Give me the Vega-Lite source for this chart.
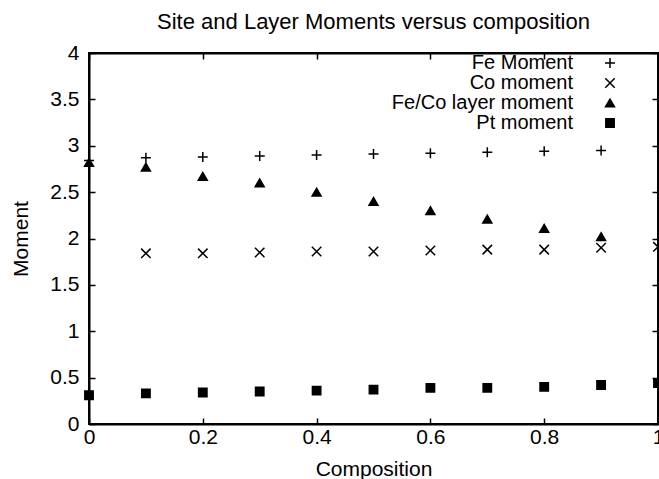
{
  "$schema": "https://vega.github.io/schema/vega-lite/v6.json",
  "width": 569,
  "height": 371,
  "autosize": {"type": "none"},
  "padding": {"left": 89, "top": 53, "right": 1, "bottom": 55},
  "background": "white",
  "config": {
    "font": "Liberation Sans",
    "view": {"stroke": "black", "strokeWidth": 2},
    "axis": {"labelFont": "Liberation Sans", "titleFont": "Liberation Sans", "labelColor": "black", "titleColor": "black", "grid": false}
  },
  "title": {
    "text": "Site and Layer Moments versus composition",
    "fontSize": 22,
    "fontWeight": "normal",
    "font": "Liberation Sans",
    "color": "black",
    "anchor": "middle",
    "offset": 8
  },
  "data": {
    "values": [
      {"series": "Fe Moment", "composition": 0.0, "moment": 2.84},
      {"series": "Fe Moment", "composition": 0.1, "moment": 2.87},
      {"series": "Fe Moment", "composition": 0.2, "moment": 2.88},
      {"series": "Fe Moment", "composition": 0.3, "moment": 2.89},
      {"series": "Fe Moment", "composition": 0.4, "moment": 2.90},
      {"series": "Fe Moment", "composition": 0.5, "moment": 2.91},
      {"series": "Fe Moment", "composition": 0.6, "moment": 2.92},
      {"series": "Fe Moment", "composition": 0.7, "moment": 2.93},
      {"series": "Fe Moment", "composition": 0.8, "moment": 2.94},
      {"series": "Fe Moment", "composition": 0.9, "moment": 2.95},
      {"series": "Co moment", "composition": 0.1, "moment": 1.84},
      {"series": "Co moment", "composition": 0.2, "moment": 1.84},
      {"series": "Co moment", "composition": 0.3, "moment": 1.85},
      {"series": "Co moment", "composition": 0.4, "moment": 1.86},
      {"series": "Co moment", "composition": 0.5, "moment": 1.86},
      {"series": "Co moment", "composition": 0.6, "moment": 1.87},
      {"series": "Co moment", "composition": 0.7, "moment": 1.88},
      {"series": "Co moment", "composition": 0.8, "moment": 1.88},
      {"series": "Co moment", "composition": 0.9, "moment": 1.90},
      {"series": "Co moment", "composition": 1.0, "moment": 1.91},
      {"series": "Fe/Co layer moment", "composition": 0.0, "moment": 2.82},
      {"series": "Fe/Co layer moment", "composition": 0.1, "moment": 2.77},
      {"series": "Fe/Co layer moment", "composition": 0.2, "moment": 2.67},
      {"series": "Fe/Co layer moment", "composition": 0.3, "moment": 2.60},
      {"series": "Fe/Co layer moment", "composition": 0.4, "moment": 2.50},
      {"series": "Fe/Co layer moment", "composition": 0.5, "moment": 2.40},
      {"series": "Fe/Co layer moment", "composition": 0.6, "moment": 2.30},
      {"series": "Fe/Co layer moment", "composition": 0.7, "moment": 2.21},
      {"series": "Fe/Co layer moment", "composition": 0.8, "moment": 2.11},
      {"series": "Fe/Co layer moment", "composition": 0.9, "moment": 2.02},
      {"series": "Pt moment", "composition": 0.0, "moment": 0.31},
      {"series": "Pt moment", "composition": 0.1, "moment": 0.33},
      {"series": "Pt moment", "composition": 0.2, "moment": 0.34},
      {"series": "Pt moment", "composition": 0.3, "moment": 0.35},
      {"series": "Pt moment", "composition": 0.4, "moment": 0.36},
      {"series": "Pt moment", "composition": 0.5, "moment": 0.37},
      {"series": "Pt moment", "composition": 0.6, "moment": 0.39},
      {"series": "Pt moment", "composition": 0.7, "moment": 0.39},
      {"series": "Pt moment", "composition": 0.8, "moment": 0.40},
      {"series": "Pt moment", "composition": 0.9, "moment": 0.42},
      {"series": "Pt moment", "composition": 1.0, "moment": 0.44}
    ]
  },
  "layer": [
    {
      "mark": {"type": "point", "strokeWidth": 1.5, "opacity": 1},
      "encoding": {
        "x": {
          "field": "composition", "type": "quantitative",
          "scale": {"domain": [0, 1], "nice": false, "zero": false},
          "axis": {
            "orient": "bottom", "title": "Composition", "values": [0, 0.2, 0.4, 0.6, 0.8, 1],
            "format": "~g", "labelFontSize": 21, "titleFontSize": 21, "titleFontWeight": "normal",
            "tickSize": -6, "tickColor": "black", "tickWidth": 1.5, "domainColor": "black", "domainWidth": 2,
            "labelPadding": 8, "titlePadding": 11, "labelFlush": false, "labelOverlap": false
          }
        },
        "y": {
          "field": "moment", "type": "quantitative",
          "scale": {"domain": [0, 4], "nice": false},
          "axis": {
            "orient": "left", "title": "Moment", "values": [0, 0.5, 1, 1.5, 2, 2.5, 3, 3.5, 4],
            "format": "~g", "labelFontSize": 21, "titleFontSize": 21, "titleFontWeight": "normal",
            "tickSize": -6, "tickColor": "black", "tickWidth": 1.5, "domainColor": "black", "domainWidth": 2,
            "labelPadding": 16, "titlePadding": 18, "labelFlush": false, "labelOverlap": false
          }
        },
        "shape": {
          "field": "series", "type": "nominal",
          "scale": {
            "domain": ["Fe Moment", "Co moment", "Fe/Co layer moment", "Pt moment"],
            "range": ["M-1,0H1M0,-1V1", "M-1,-1L1,1M1,-1L-1,1", "triangle-up", "square"]
          },
          "legend": {
            "title": null, "orient": "none", "legendX": 511, "legendY": 0,
            "labelFontSize": 20, "labelFont": "Liberation Sans", "labelColor": "black",
            "labelAlign": "right", "labelOffset": -47, "labelLimit": 400,
            "rowPadding": 0, "padding": 0, "symbolStrokeWidth": 1.5, "symbolOpacity": 1
          }
        },
        "fill": {
          "field": "series", "type": "nominal",
          "scale": {
            "domain": ["Fe Moment", "Co moment", "Fe/Co layer moment", "Pt moment"],
            "range": ["transparent", "transparent", "black", "black"]
          },
          "legend": {
            "title": null, "orient": "none", "legendX": 511, "legendY": 0,
            "labelFontSize": 20, "labelFont": "Liberation Sans", "labelColor": "black",
            "labelAlign": "right", "labelOffset": -47, "labelLimit": 400,
            "rowPadding": 0, "padding": 0, "symbolStrokeWidth": 1.5, "symbolOpacity": 1
          }
        },
        "stroke": {
          "field": "series", "type": "nominal",
          "scale": {
            "domain": ["Fe Moment", "Co moment", "Fe/Co layer moment", "Pt moment"],
            "range": ["black", "black", "black", "black"]
          },
          "legend": {
            "title": null, "orient": "none", "legendX": 511, "legendY": 0,
            "labelFontSize": 20, "labelFont": "Liberation Sans", "labelColor": "black",
            "labelAlign": "right", "labelOffset": -47, "labelLimit": 400,
            "rowPadding": 0, "padding": 0, "symbolStrokeWidth": 1.5, "symbolOpacity": 1
          }
        },
        "size": {
          "field": "series", "type": "nominal",
          "scale": {
            "domain": ["Fe Moment", "Co moment", "Fe/Co layer moment", "Pt moment"],
            "range": [100, 70, 49, 64]
          },
          "legend": {
            "title": null, "orient": "none", "legendX": 511, "legendY": 0,
            "labelFontSize": 20, "labelFont": "Liberation Sans", "labelColor": "black",
            "labelAlign": "right", "labelOffset": -47, "labelLimit": 400,
            "rowPadding": 0, "padding": 0, "symbolStrokeWidth": 1.5, "symbolOpacity": 1
          }
        }
      }
    },
    {
      "mark": {"type": "point", "opacity": 0},
      "encoding": {
        "x": {
          "field": "composition", "type": "quantitative",
          "axis": {
            "orient": "top", "title": null, "labels": false, "values": [0, 0.2, 0.4, 0.6, 0.8, 1],
            "tickSize": -6, "tickColor": "black", "tickWidth": 1.5, "domainColor": "black", "domainWidth": 2
          }
        },
        "y": {
          "field": "moment", "type": "quantitative",
          "axis": {
            "orient": "right", "title": null, "labels": false, "values": [0, 0.5, 1, 1.5, 2, 2.5, 3, 3.5, 4],
            "tickSize": -6, "tickColor": "black", "tickWidth": 1.5, "domainColor": "black", "domainWidth": 2
          }
        }
      }
    }
  ],
  "resolve": {"axis": {"x": "independent", "y": "independent"}}
}
